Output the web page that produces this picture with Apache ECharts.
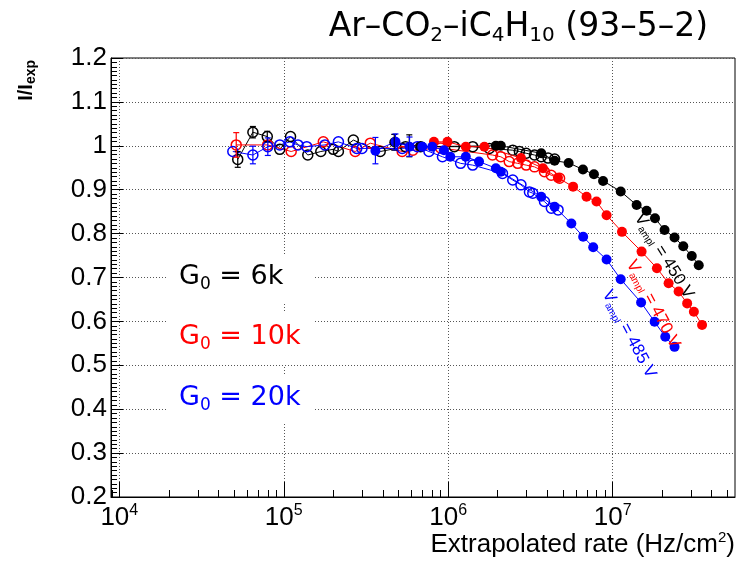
<!DOCTYPE html>
<html>
<head>
<meta charset="utf-8">
<script src="https://cdn.jsdelivr.net/npm/echarts@6/dist/echarts.min.js"></script>
<style>
html, body { margin: 0; padding: 0; background: #fff; }
#chart { width: 738px; height: 563px; }
</style>
</head>
<body>
<div id="chart"></div>
<script>
// G0 = 6k (450 V)
var blackOpenX = [5.25e4, 6.49e4, 7.94e4, 9.46e4, 1.10e5, 1.40e5, 1.68e5, 2.0e5, 2.15e5, 2.65e5, 3.86e5, 5.5e5, 6.8e5, 1.09e6, 1.41e6, 1.78e6, 2.47e6, 2.71e6, 2.98e6, 3.35e6, 3.68e6, 4.05e6, 4.44e6];
var blackOpenY = [0.969, 1.031, 1.021, 0.992, 1.021, 0.979, 0.987, 0.992, 0.987, 1.013, 0.987, 0.998, 0.998, 0.998, 0.998, 0.994, 0.990, 0.987, 0.983, 0.979, 0.975, 0.972, 0.970];
var blackFullX = [4.7e5, 6.8e5, 1.95e6, 2.09e6, 3.68e6, 4.44e6, 5.4e6, 6.6e6, 7.7e6, 8.75e6, 1.12e7, 1.40e7, 1.61e7, 1.81e7, 2.07e7, 2.38e7, 2.69e7, 3.03e7, 3.34e7];
var blackFullY = [1.008, 0.998, 1.0, 1.0, 0.983, 0.966, 0.961, 0.946, 0.935, 0.920, 0.896, 0.865, 0.852, 0.835, 0.808, 0.791, 0.771, 0.749, 0.728];
var blackErr = [[5.25e4, 0.969, 0.018], [6.49e4, 1.031, 0.013], [7.94e4, 1.021, 0.012], [4.7e5, 1.008, 0.018], [5.8e5, 1.0, 0.025]];

// G0 = 10k (470 V)
var redOpenX = [5.14e4, 7.98e4, 1.11e5, 1.74e5, 2.72e5, 3.36e5, 5.25e5, 6.1e5, 9.0e5, 1.86e6, 2.09e6, 2.35e6, 2.65e6, 2.98e6, 3.35e6, 3.85e6, 4.23e6, 4.76e6];
var redOpenY = [1.002, 1.002, 0.987, 1.009, 0.987, 1.006, 0.987, 0.99, 0.995, 0.979, 0.975, 0.964, 0.960, 0.956, 0.952, 0.941, 0.933, 0.926];
var redFullX = [8.19e5, 9.9e5, 1.28e6, 1.66e6, 2.77e6, 3.77e6, 4.65e6, 5.75e6, 6.94e6, 7.98e6, 9.19e6, 1.14e7, 1.50e7, 1.86e7, 2.19e7, 2.52e7, 2.84e7, 3.12e7, 3.5e7];
var redFullY = [1.009, 1.009, 0.998, 0.998, 0.972, 0.949, 0.927, 0.907, 0.884, 0.873, 0.842, 0.804, 0.759, 0.721, 0.687, 0.668, 0.641, 0.622, 0.592];
var redErr = [[5.14e4, 1.002, 0.028]];

// G0 = 20k (485 V)
var blueOpenX = [4.9e4, 6.49e4, 8.0e4, 9.46e4, 1.09e5, 1.22e5, 1.38e5, 1.78e5, 2.15e5, 2.78e5, 2.99e5, 5.25e5, 6.49e5, 7.64e5, 9.23e5, 1.19e6, 1.41e6, 2.14e6, 2.47e6, 2.77e6, 3.12e6, 3.27e6, 3.85e6, 4.24e6, 4.66e6];
var blueOpenY = [0.987, 0.979, 0.998, 1.002, 1.009, 1.002, 0.998, 1.002, 1.009, 0.994, 0.994, 0.994, 0.998, 0.987, 0.975, 0.960, 0.956, 0.937, 0.922, 0.911, 0.895, 0.892, 0.873, 0.858, 0.854];
var blueFullX = [3.61e5, 4.78e5, 5.82e5, 6.96e5, 8.0e5, 9.42e5, 1.03e6, 1.28e6, 1.54e6, 1.95e6, 2.09e6, 3.68e6, 4.44e6, 5.61e6, 6.62e6, 7.62e6, 9.19e6, 1.12e7, 1.49e7, 1.80e7, 2.09e7, 2.38e7];
var blueFullY = [0.989, 1.009, 0.998, 0.998, 0.998, 0.990, 0.975, 0.975, 0.964, 0.949, 0.941, 0.884, 0.861, 0.823, 0.793, 0.769, 0.741, 0.696, 0.643, 0.599, 0.565, 0.542];
var blueErr = [[6.49e4, 0.979, 0.02], [8.0e4, 0.998, 0.02], [3.61e5, 0.989, 0.03], [4.78e5, 1.009, 0.018], [5.82e5, 0.998, 0.022]];

// axes
var X_MIN = 8.9e3, X_MAX = 5.55e7;
var majorTicks = [1e4, 1e5, 1e6, 1e7];
var minorTicks = [];
[3, 4, 5, 6, 7].forEach(function (e) {
    for (var k = 2; k <= 9; k++) {
        var v = k * Math.pow(10, e);
        if (v > X_MIN && v < X_MAX) minorTicks.push(v);
    }
});

var ROOTFONT = '"Liberation Sans", Arial, sans-serif';
var TXTFONT = '"DejaVu Sans", sans-serif';

function pairs(xs, ys) {
    return xs.map(function (x, i) { return [x, ys[i]]; });
}

function openSeries(name, color, xs, ys) {
    return {
        name: name, type: 'line', data: pairs(xs, ys),
        symbol: 'circle', symbolSize: 10,
        lineStyle: { color: color, width: 1 },
        itemStyle: { color: 'rgba(0,0,0,0)', borderColor: color, borderWidth: 1.5 },
        z: 3
    };
}
function fullSeries(name, color, xs, ys) {
    return {
        name: name, type: 'line', data: pairs(xs, ys),
        symbol: 'circle', symbolSize: 10,
        lineStyle: { color: color, width: 1 },
        itemStyle: { color: color, borderWidth: 0 },
        z: 4
    };
}
function errSeries(color, errs) {
    return {
        type: 'custom', data: errs, z: 5,
        renderItem: function (params, api) {
            var x = api.value(0), y = api.value(1), e = api.value(2);
            var top = api.coord([x, y + e]);
            var bot = api.coord([x, y - e]);
            var st = { stroke: color, lineWidth: 1.2 };
            return {
                type: 'group',
                children: [
                    { type: 'line', shape: { x1: top[0], y1: top[1], x2: bot[0], y2: bot[1] }, style: st },
                    { type: 'line', shape: { x1: top[0] - 3, y1: top[1], x2: top[0] + 3, y2: top[1] }, style: st },
                    { type: 'line', shape: { x1: bot[0] - 3, y1: bot[1], x2: bot[0] + 3, y2: bot[1] }, style: st }
                ]
            };
        }
    };
}

function gainLabel(y, text, color) {
    return { type: 'text', x: 179, y: y, z: 20, style: {
        text: text, align: 'left', verticalAlign: 'middle', fontFamily: TXTFONT, fontSize: 27, fill: color, lineHeight: 32,
        rich: { s: { fontFamily: TXTFONT, fontSize: 17, lineHeight: 12, verticalAlign: 'bottom', fill: color } } } };
}
function voltLabel(x, y, deg, text, color) {
    return { type: 'text', x: x, y: y, rotation: -deg * Math.PI / 180, z: 20, style: {
        text: text, align: 'center', verticalAlign: 'middle', fontFamily: ROOTFONT, fontSize: 17, fill: color, lineHeight: 20,
        rich: { s: { fontFamily: ROOTFONT, fontSize: 10, lineHeight: 8, verticalAlign: 'bottom', fill: color } } } };
}

var chart = echarts.init(document.getElementById('chart'));
var dots = { color: '#555', width: 1, type: [1, 2] };

var option = {
    animation: false,
    backgroundColor: '#fff',
    grid: { left: 111, right: 3, top: 58, bottom: 66, show: true, borderColor: '#000', borderWidth: 1, backgroundColor: 'rgba(0,0,0,0)' },
    xAxis: [{
        type: 'log', logBase: 10, min: X_MIN, max: X_MAX,
        axisLine: { show: true, lineStyle: { color: '#000', width: 1 } },
        axisTick: { show: true, inside: true, length: 15, customValues: majorTicks, lineStyle: { color: '#000' } },
        axisLabel: {
            customValues: majorTicks, color: '#000', margin: 6,
            formatter: function (v) { return '{b|10}{s|' + Math.round(Math.log10(v)) + '}'; },
            rich: {
                b: { fontFamily: ROOTFONT, fontSize: 26, color: '#000', lineHeight: 30 },
                s: { fontFamily: ROOTFONT, fontSize: 16, color: '#000', lineHeight: 14, verticalAlign: 'top' }
            }
        },
        splitLine: { show: true, lineStyle: dots }
    }, {
        type: 'log', logBase: 10, min: X_MIN, max: X_MAX, position: 'bottom',
        axisLine: { show: false },
        axisTick: { show: true, inside: true, length: 7, customValues: minorTicks, lineStyle: { color: '#000' } },
        axisLabel: { show: false },
        splitLine: { show: false }
    }],
    yAxis: {
        type: 'value', min: 0.2, max: 1.2, interval: 0.1,
        axisLine: { show: true, lineStyle: { color: '#000', width: 1 } },
        axisTick: { show: true, inside: true, length: 12, lineStyle: { color: '#000' } },
        minorTick: { show: true, splitNumber: 10, length: 6, lineStyle: { color: '#000' } },
        axisLabel: { color: '#000', fontFamily: ROOTFONT, fontSize: 26, margin: 4 },
        splitLine: { show: true, lineStyle: dots }
    },
    series: [
        openSeries('black open', '#000', blackOpenX, blackOpenY),
        openSeries('red open', '#ff0000', redOpenX, redOpenY),
        openSeries('blue open', '#0000ff', blueOpenX, blueOpenY),
        fullSeries('black full', '#000', blackFullX, blackFullY),
        fullSeries('red full', '#ff0000', redFullX, redFullY),
        fullSeries('blue full', '#0000ff', blueFullX, blueFullY),
        errSeries('#000', blackErr),
        errSeries('#ff0000', redErr),
        errSeries('#0000ff', blueErr)
    ],
    graphic: [
        // title
        { type: 'text', x: 708, y: 27, z: 20, style: {
            text: 'Ar\u2013CO{s|2}\u2013iC{s|4}H{s|10} (93\u20135\u20132)',
            align: 'right', verticalAlign: 'middle',
            fontFamily: TXTFONT, fontSize: 33, fill: '#000', lineHeight: 38,
            rich: { s: { fontFamily: TXTFONT, fontSize: 20, lineHeight: 14, verticalAlign: 'bottom', fill: '#000' } }
        } },
        // y title
        { type: 'text', x: 26, y: 60, rotation: Math.PI / 2, z: 20, style: {
            text: 'I/I{s|exp}', align: 'right', verticalAlign: 'middle',
            fontFamily: ROOTFONT, fontWeight: 'bold', fontSize: 20, fill: '#000', lineHeight: 24,
            rich: { s: { fontFamily: ROOTFONT, fontWeight: 'bold', fontSize: 14, lineHeight: 10, verticalAlign: 'bottom', fill: '#000' } }
        } },
        // x title
        { type: 'text', x: 735, y: 545, z: 20, style: {
            text: 'Extrapolated rate (Hz/cm{s|2})', align: 'right', verticalAlign: 'middle',
            fontFamily: ROOTFONT, fontSize: 26, fill: '#000', lineHeight: 30,
            rich: { s: { fontFamily: ROOTFONT, fontSize: 15, lineHeight: 12, verticalAlign: 'top', fill: '#000' } }
        } },
        // gain boxes
        { type: 'rect', z: 15, shape: { x: 168, y: 254, width: 147, height: 48 }, style: { fill: '#fff' } },
        { type: 'rect', z: 15, shape: { x: 168, y: 313, width: 147, height: 52 }, style: { fill: '#fff' } },
        { type: 'rect', z: 15, shape: { x: 168, y: 376, width: 147, height: 46 }, style: { fill: '#fff' } },
        gainLabel(277, 'G{s|0} = 6k', '#000'),
        gainLabel(337, 'G{s|0} = 10k', '#ff0000'),
        gainLabel(398, 'G{s|0} = 20k', '#0000ff'),
        // voltage labels along the curves
        voltLabel(664, 256, 58, 'V{s|ampl} = 450 V', '#000'),
        voltLabel(653, 304, 62, 'V{s|ampl} = 470 V', '#ff0000'),
        voltLabel(629, 334, 62, 'V{s|ampl} = 485 V', '#0000ff')
    ]
};
chart.setOption(option);
</script>
</body>
</html>
